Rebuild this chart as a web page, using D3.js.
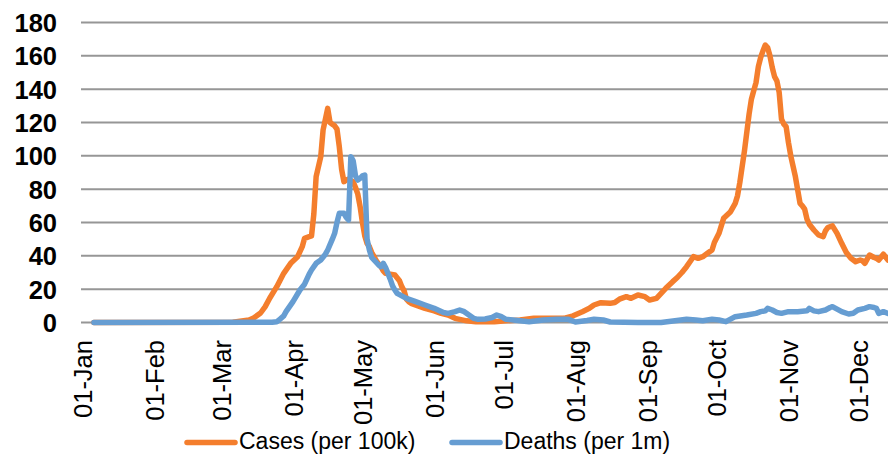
<!DOCTYPE html>
<html>
<head>
<meta charset="utf-8">
<script src="https://cdn.jsdelivr.net/npm/d3@7/dist/d3.min.js"></script>
<style>
  body { margin: 0; background: #fff; }
  svg { display: block; font-family: "Liberation Sans", Arial, sans-serif; }
</style>
</head>
<body>
<svg id="chart" width="888" height="455"></svg>
<script>
// Daily rolling rates, 2020
const caseDates = [
  "2020-01-06","2020-03-06","2020-03-13","2020-03-15","2020-03-18","2020-03-20","2020-03-22","2020-03-25",
  "2020-03-28","2020-03-31","2020-04-03","2020-04-05","2020-04-06","2020-04-08","2020-04-09","2020-04-10",
  "2020-04-11","2020-04-13","2020-04-14","2020-04-16","2020-04-17","2020-04-18","2020-04-19","2020-04-20",
  "2020-04-21","2020-04-22","2020-04-23","2020-04-24","2020-04-25","2020-04-26","2020-04-27","2020-04-28",
  "2020-04-29","2020-04-30","2020-05-01","2020-05-02","2020-05-03","2020-05-04","2020-05-05","2020-05-06",
  "2020-05-07","2020-05-08","2020-05-09","2020-05-10","2020-05-11","2020-05-13","2020-05-15","2020-05-17",
  "2020-05-18","2020-05-19","2020-05-20","2020-05-21","2020-05-22","2020-05-25","2020-05-28","2020-06-01",
  "2020-06-04","2020-06-07","2020-06-10","2020-06-12","2020-06-15","2020-06-19","2020-06-27","2020-07-02",
  "2020-07-08","2020-07-14","2020-07-22","2020-07-27","2020-07-31","2020-08-04","2020-08-07","2020-08-09",
  "2020-08-12","2020-08-16","2020-08-18","2020-08-20","2020-08-23","2020-08-25","2020-08-28","2020-08-31",
  "2020-09-02","2020-09-05","2020-09-07","2020-09-09","2020-09-12","2020-09-14","2020-09-16","2020-09-18",
  "2020-09-20","2020-09-21","2020-09-23","2020-09-25","2020-09-27","2020-09-29","2020-09-30","2020-10-02",
  "2020-10-04","2020-10-07","2020-10-09","2020-10-10","2020-10-11","2020-10-13","2020-10-15","2020-10-16",
  "2020-10-17","2020-10-18","2020-10-19","2020-10-20","2020-10-21","2020-10-22","2020-10-23","2020-10-24",
  "2020-10-25","2020-10-26","2020-10-27","2020-10-28","2020-10-29","2020-10-30","2020-10-31","2020-11-01",
  "2020-11-02","2020-11-04","2020-11-06","2020-11-07","2020-11-08","2020-11-09","2020-11-10","2020-11-12",
  "2020-11-14","2020-11-16","2020-11-17","2020-11-18","2020-11-20","2020-11-22","2020-11-24","2020-11-26",
  "2020-11-28","2020-11-30","2020-12-02","2020-12-03","2020-12-04","2020-12-06","2020-12-08","2020-12-09",
  "2020-12-10","2020-12-12","2020-12-14"
];
const caseValues = [
  0, 0.2, 1.5, 2.7, 5.7, 9.5, 14.7, 21.5,
  29.5, 35.5, 39.5, 45.5, 50.5, 51.5, 52, 65,
  87.5, 99.5, 115.5, 128.5, 120, 119, 118, 116,
  105.5, 92, 84.5, 85.5, 86, 85, 84.5, 81,
  77, 69.5, 60, 52, 47.5, 45.5, 42, 39.5,
  37, 35, 33.5, 31, 29.5, 29, 28.5, 25,
  21.5, 19, 14, 12.5, 11.5, 10, 8.5, 7,
  5.5, 4.5, 2.5, 1.9, 1, 0.5, 0.5, 1,
  1.5, 2.5, 2.5, 2.5, 4, 6.5, 8.5, 10.5,
  11.9, 11.5, 12, 14, 15.5, 14.5, 16.5, 15.5,
  13.5, 14.5, 17.5, 20.5, 24.5, 27, 30, 33.5,
  37.5, 39.5, 38.5, 39.5, 41.5, 43.5, 48, 53.5,
  62.5, 66.5, 71.5, 76, 84, 103, 125, 134,
  139, 144, 153.5, 159, 163, 166.5, 165, 160,
  153, 147.5, 145, 138, 122, 119, 117.5, 108,
  100, 87.5, 71.5, 70, 68, 62, 59, 55.5,
  52.5, 51.5, 55, 57, 58, 53.5, 47.5, 42,
  38.5, 36.5, 37.5, 37, 35.5, 40.5, 39, 38.5,
  37.5, 41, 37.5
];

const deathDates = [
  "2020-01-06","2020-03-23","2020-03-25","2020-03-26","2020-03-28","2020-03-29","2020-04-01","2020-04-04",
  "2020-04-06","2020-04-08","2020-04-09","2020-04-11","2020-04-13","2020-04-15","2020-04-16","2020-04-18",
  "2020-04-19","2020-04-20","2020-04-21","2020-04-23","2020-04-24","2020-04-25","2020-04-26","2020-04-27",
  "2020-04-28","2020-04-29","2020-04-30","2020-05-01","2020-05-02","2020-05-03","2020-05-04","2020-05-05",
  "2020-05-06","2020-05-08","2020-05-09","2020-05-10","2020-05-11","2020-05-12","2020-05-13","2020-05-14",
  "2020-05-15","2020-05-16","2020-05-18","2020-05-20","2020-05-24","2020-05-28","2020-06-01","2020-06-05",
  "2020-06-07","2020-06-10","2020-06-12","2020-06-14","2020-06-16","2020-06-18","2020-06-20","2020-06-23",
  "2020-06-26","2020-06-28","2020-06-30","2020-07-02","2020-07-05","2020-07-08","2020-07-12","2020-07-18",
  "2020-07-24","2020-07-29","2020-08-01","2020-08-06","2020-08-09","2020-08-13","2020-08-16","2020-08-28",
  "2020-09-07","2020-09-13","2020-09-18","2020-09-22","2020-09-25","2020-09-29","2020-10-02","2020-10-05",
  "2020-10-07","2020-10-09","2020-10-14","2020-10-18","2020-10-20","2020-10-22","2020-10-23","2020-10-25",
  "2020-10-27","2020-10-29","2020-11-01","2020-11-05","2020-11-09","2020-11-10","2020-11-12","2020-11-14",
  "2020-11-17","2020-11-19","2020-11-20","2020-11-22","2020-11-24","2020-11-27","2020-11-29","2020-12-01",
  "2020-12-04","2020-12-06","2020-12-08","2020-12-09","2020-12-10","2020-12-12","2020-12-14"
];
const deathValues = [
  0, 0.2, 0.5, 1.5, 4, 6.5, 12.5, 19.5,
  23, 29, 31.5, 35.5, 37.5, 41, 43.5, 50,
  53.5, 60, 65.5, 65.5, 63, 61.5, 99.5, 97,
  88, 85.5, 86.5, 88, 88.5, 50, 43.5, 39,
  37.5, 34.5, 33.5, 35.5, 33, 29.5, 26, 22,
  19.5, 17.5, 16, 14.5, 12.5, 10.5, 8.5, 6,
  5.5, 6.5, 7.5, 6.5, 4.5, 2.5, 1.9, 2.1,
  3, 4.5, 3.5, 1.9, 1.5, 1.1, 0.5, 1.5,
  1.9, 1.9, 0.3, 1.2, 1.9, 1.5, 0.3, 0,
  0, 1, 1.9, 1.5, 1.1, 1.9, 1.5, 0.5,
  2, 3.5, 4.5, 5.5, 6.5, 7, 8.5, 7.5,
  6, 5.5, 6.5, 6.5, 7, 8.5, 7, 6.5,
  7.5, 9, 9.5, 8, 6.5, 5.1, 5.5, 7.5,
  8.5, 9.5, 9, 8.5, 5.5, 6.5, 5.5
];

const yTicks = [0, 20, 40, 60, 80, 100, 120, 140, 160, 180];
const monthTicks = ["2020-01-01","2020-02-01","2020-03-01","2020-04-01","2020-05-01","2020-06-01",
                    "2020-07-01","2020-08-01","2020-09-01","2020-10-01","2020-11-01","2020-12-01"];
const seriesNames = ["Cases (per 100k)", "Deaths (per 1m)"];
const seriesColors = ["#f47e2d", "#669dd2"];

const parse = d3.utcParse("%Y-%m-%d");
const svg = d3.select("#chart");

const x = d3.scaleUtc()
  .domain([parse("2020-01-01"), parse("2020-12-14")])
  .range([82.3, 888]);
const y = d3.scaleLinear().domain([0, 180]).range([322.5, 22.5]);

// horizontal gridlines
svg.append("g")
  .selectAll("line")
  .data(yTicks)
  .join("line")
  .attr("x1", 81).attr("x2", 888)
  .attr("y1", d => y(d)).attr("y2", d => y(d))
  .attr("stroke", "#969696")
  .attr("stroke-width", 2);

// value axis labels
const yAxis = svg.append("g")
  .attr("transform", "translate(57,0)")
  .call(d3.axisLeft(y).tickValues(yTicks).tickSize(0).tickPadding(0));
yAxis.select(".domain").remove();
yAxis.selectAll("text")
  .attr("font-family", "'Liberation Sans', Arial, sans-serif")
  .attr("font-size", 25.5)
  .attr("font-weight", "bold")
  .attr("fill", "#000")
  .attr("dy", "0.35em");

// date axis labels, rotated
const xAxis = svg.append("g")
  .attr("transform", "translate(0,340)")
  .call(d3.axisBottom(x).tickValues(monthTicks.map(parse)).tickFormat(d3.utcFormat("%d-%b")).tickSize(0).tickPadding(0));
xAxis.select(".domain").remove();
xAxis.selectAll("text")
  .attr("font-family", "'Liberation Sans', Arial, sans-serif")
  .attr("font-size", 25.5)
  .attr("fill", "#000")
  .attr("text-anchor", "end")
  .attr("transform", "rotate(-90)")
  .attr("x", 0)
  .attr("y", 0)
  .attr("dy", "0.36em");

// series lines
const line = d3.line()
  .x(d => x(d[0]))
  .y(d => y(d[1]))
  .curve(d3.curveLinear);

const series = [
  caseDates.map((d, i) => [parse(d), caseValues[i]]),
  deathDates.map((d, i) => [parse(d), deathValues[i]])
];

svg.append("defs").append("clipPath").attr("id", "plot")
  .append("rect").attr("x", 81).attr("y", 0).attr("width", 807).attr("height", 340);

svg.append("g").attr("clip-path", "url(#plot)")
  .selectAll("path")
  .data(series)
  .join("path")
  .attr("d", line)
  .attr("fill", "none")
  .attr("stroke", (d, i) => seriesColors[i])
  .attr("stroke-width", 5.5)
  .attr("stroke-linejoin", "round")
  .attr("stroke-linecap", "round");

// legend
const legendX = [187, 452];
const lg = svg.append("g")
  .selectAll("g")
  .data(seriesNames)
  .join("g")
  .attr("transform", (d, i) => `translate(${legendX[i]},0)`);
lg.append("line")
  .attr("x1", 0).attr("x2", 48)
  .attr("y1", 442.5).attr("y2", 442.5)
  .attr("stroke", (d, i) => seriesColors[i])
  .attr("stroke-width", 5.5)
  .attr("stroke-linecap", "round");
lg.append("text")
  .attr("x", 52)
  .attr("y", 449.3)
  .attr("font-size", 23)
  .attr("fill", "#000")
  .text(d => d);
</script>
</body>
</html>
